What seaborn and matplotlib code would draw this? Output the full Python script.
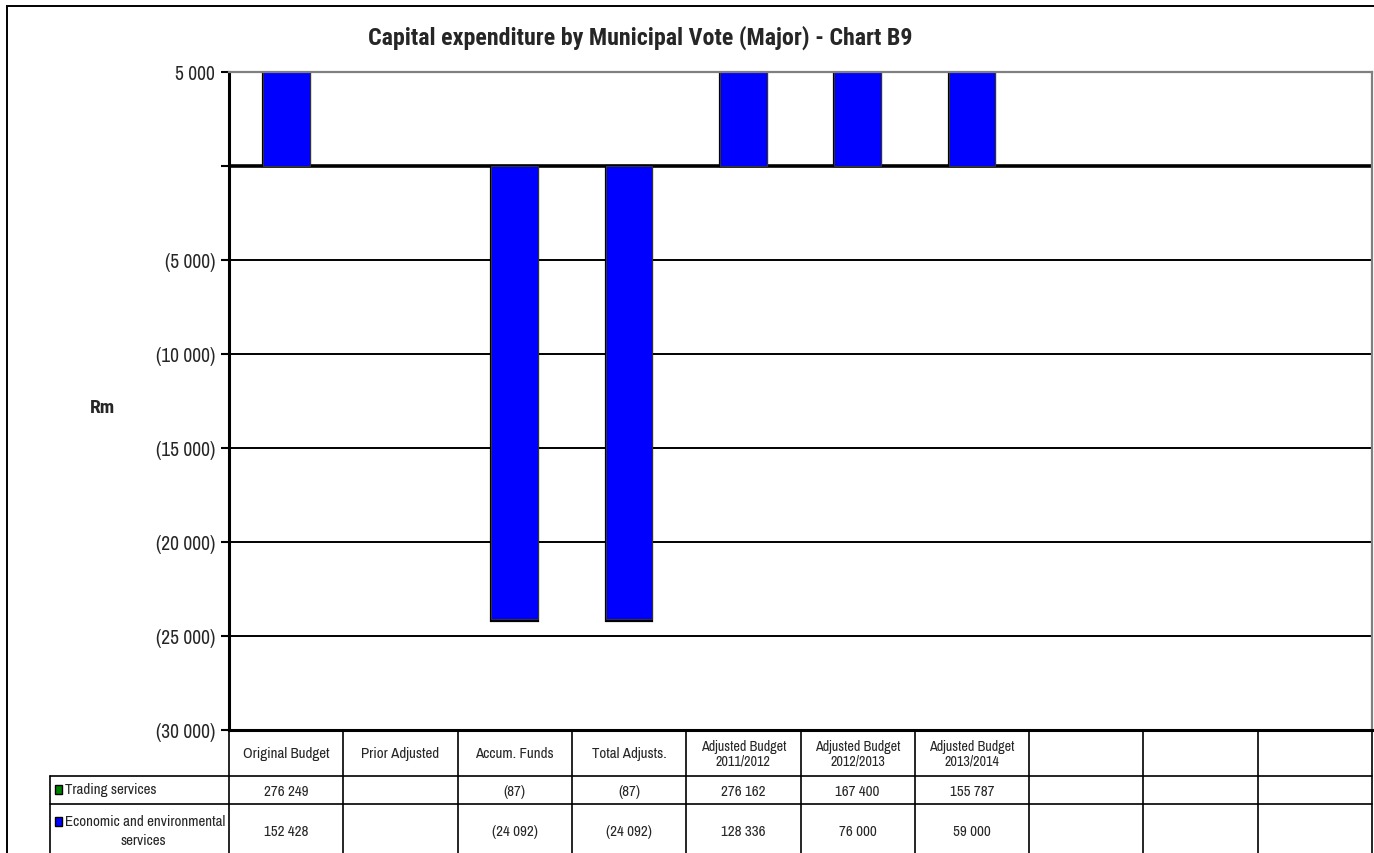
import numpy as np
import pandas as pd
import matplotlib
matplotlib.use("Agg")
import matplotlib.pyplot as plt
from matplotlib.lines import Line2D
from matplotlib.patches import Rectangle
import seaborn as sns

# ---- data -------------------------------------------------------------
categories = ["Original Budget", "Prior Adjusted", "Accum. Funds", "Total Adjusts.",
              "Adjusted Budget\n2011/2012", "Adjusted Budget\n2012/2013",
              "Adjusted Budget\n2013/2014", "", "", ""]
trading = [276249, np.nan, -87, -87, 276162, 167400, 155787, np.nan, np.nan, np.nan]
economic = [152428, np.nan, -24092, -24092, 128336, 76000, 59000, np.nan, np.nan, np.nan]
series_names = ["Trading services", "Economic and environmental\nservices"]
series_colors = ["#008000", "#0000FF"]
y_ticks = [5000, 0, -5000, -10000, -15000, -20000, -25000, -30000]

sns.set_style("white")
plt.rcParams["font.family"] = ["Liberation Sans Narrow", "Arial Narrow", "Archivo Narrow",
                               "Liberation Sans", "DejaVu Sans"]
bold_family = ["Liberation Sans Narrow", "Arial Narrow", "Roboto Condensed",
               "PT Sans Narrow", "Asap Condensed", "Liberation Sans"]

W, H = 1374, 854
fig = plt.figure(figsize=(W / 100, H / 100), dpi=100)

def fx(px):
    return px / W

def fy(py):
    return 1 - py / H

x0, x1, ytop, ybot = 229, 1372, 73, 731
ax = fig.add_axes([fx(x0), fy(ybot), fx(x1) - fx(x0), fy(ytop) - fy(ybot)])

pos = np.arange(len(categories))
econ = np.array(economic, dtype=float)
trad = np.array(trading, dtype=float)
total = np.nan_to_num(econ) + np.nan_to_num(trad)
total[np.isnan(econ) & np.isnan(trad)] = np.nan

df = pd.DataFrame({"pos": pos, "total": total, "econ": econ})

# stacked columns: full stack in green, economic segment drawn over it from zero
sns.barplot(data=df, x="pos", y="total", order=list(pos), color=series_colors[0],
            saturation=1, width=0.41, edgecolor="black", linewidth=1.6, ax=ax)
sns.barplot(data=df, x="pos", y="econ", order=list(pos), color=series_colors[1],
            saturation=1, width=0.41, edgecolor="#333333", linewidth=0.8, ax=ax)

ax.set_xlim(-0.5, len(categories) - 0.5)
ax.set_ylim(-30000, 5000)
ax.set_xticks([])
ax.set_xlabel("")
ax.set_ylabel("")

def fmt(v):
    if v == 0:
        return ""
    s = f"{abs(int(v)):,}".replace(",", " ")
    return f"({s})" if v < 0 else s

ax.set_yticks(y_ticks)
ax.set_yticklabels([fmt(v) for v in y_ticks], fontsize=14)
ax.tick_params(axis="y", which="major", direction="out", length=6, width=1.5,
               color="black", left=True, pad=4)

for v in y_ticks[1:-1]:
    ax.axhline(v, color="black", lw=2.6 if v == 0 else 1.4, zorder=0.5)

for side in ["top", "right"]:
    ax.spines[side].set_color("#808080")
    ax.spines[side].set_linewidth(1.6)
for side in ["left", "bottom"]:
    ax.spines[side].set_color("black")
    ax.spines[side].set_linewidth(2.2)

# title and axis label
fig.text(fx(640), fy(38), "Capital expenditure by Municipal Vote (Major) - Chart B9",
         ha="center", va="center", fontsize=17.3, fontweight="bold", family=bold_family)
fig.text(fx(102), fy(408), "Rm", ha="center", va="center", fontsize=14,
         fontweight="bold", family=bold_family)

# outer chart border
fig.add_artist(Rectangle((fx(7), fy(900)), fx(1380), fy(7) - fy(900), transform=fig.transFigure,
                         fill=False, edgecolor="black", lw=1.4))

# ---- data table -------------------------------------------------------
col_w = (x1 - x0) / len(categories)
lkw = dict(transform=fig.transFigure, color="black", lw=1.2)
tfs = 10.8
tbl_left = 50

# horizontal rules
fig.add_artist(Line2D([fx(tbl_left), fx(x1)], [fy(777), fy(777)], **lkw))
fig.add_artist(Line2D([fx(tbl_left), fx(x1)], [fy(805), fy(805)], **lkw))
# vertical rules
for i in range(len(categories) + 1):
    xx = x0 + i * col_w
    fig.add_artist(Line2D([fx(xx), fx(xx)], [fy(731), fy(860)], **lkw))
fig.add_artist(Line2D([fx(tbl_left), fx(tbl_left)], [fy(777), fy(860)], **lkw))

row_centers = [792, 832]
for i, cat in enumerate(categories):
    cx = x0 + (i + 0.5) * col_w
    if cat:
        fig.text(fx(cx), fy(754), cat, ha="center", va="center", fontsize=tfs if "\n" not in cat else tfs - 0.6,
                 linespacing=1.05)
    for r, vals in enumerate([trading, economic]):
        v = vals[i]
        if not np.isnan(v):
            fig.text(fx(cx), fy(row_centers[r]), fmt(v), ha="center", va="center", fontsize=tfs)

# row headers with legend keys
key_y = [790, 822]
for r, (name, col) in enumerate(zip(series_names, series_colors)):
    fig.add_artist(Rectangle((fx(55), fy(key_y[r] + 4.5)), fx(7), fy(key_y[r] - 4.5) - fy(key_y[r] + 4.5),
                             transform=fig.transFigure, facecolor=col,
                             edgecolor="black", lw=1.0))
    first, *rest = name.split("\n")
    fig.text(fx(65), fy(key_y[r]), first, ha="left", va="center", fontsize=tfs)
    if rest:
        fig.text(fx(143), fy(841), rest[0], ha="center", va="center", fontsize=tfs)

fig.savefig("out.png", dpi=100, facecolor="white")
